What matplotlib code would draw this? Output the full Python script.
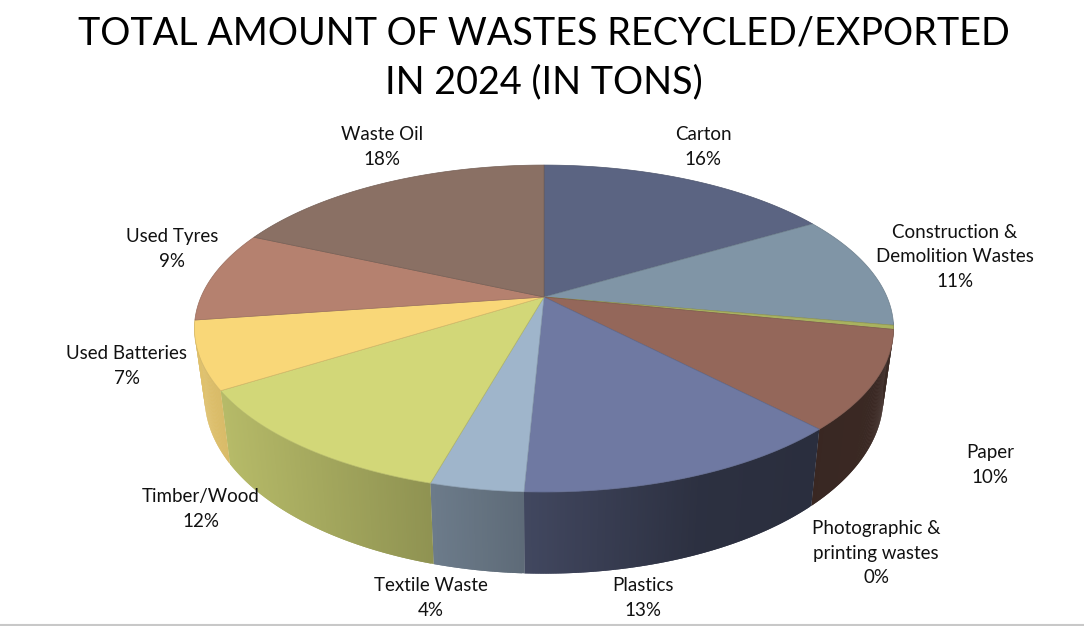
"""3D-look pie of wastes recycled/exported, drawn with a perspective projection."""

import numpy as np
import matplotlib
matplotlib.use("Agg")
import matplotlib.pyplot as plt
from matplotlib.colors import to_rgb
from matplotlib.patches import Polygon

plt.rcParams["font.family"] = ["Lato", "DejaVu Sans"]

TITLE = "TOTAL AMOUNT OF WASTES RECYCLED/EXPORTED\nIN 2024 (IN TONS)"

# clockwise from 12 o'clock
CATEGORIES = ["Carton", "Construction &\nDemolition Wastes", "Photographic &\nprinting wastes",
              "Paper", "Plastics", "Textile Waste", "Timber/Wood", "Used Batteries",
              "Used Tyres", "Waste Oil"]
VALUES = [16.5, 11.3, 0.4, 9.7, 12.9, 3.6, 11.7, 6.7, 9.0, 18.3]

COLORS = ["#5b6482", "#8095a6", "#a9b25f", "#94675a", "#6f79a2",
          "#9fb5cb", "#d2d778", "#f9d778", "#b5816f", "#8a7064"]
LABEL_XY = [(703, 147), (955, 257), (876, 553), (990, 465), (643, 598),
            (431, 598), (201, 509), (127, 366), (172, 249), (382, 147)]

# projection of the unit disc to pixels
CX, CY = 544, 297
K = 0.193
TOP_A, TOP_B = 157.4, 343
BOT_A, BOT_B, BOT_DY = 170, 333, 66

# wall brightness against screen x
SHADE_X = [194, 229, 432, 524, 700, 810, 893]
SHADE_F = [0.90, 0.86, 0.68, 0.59, 0.40, 0.38, 0.40]


def top_xy(u, v):
    w = 1 + K * v
    return CX + TOP_B * u / w, CY - TOP_A * v / w


def bottom_xy(u, v):
    w = 1 + K * v
    return CX + BOT_B * u / w, CY + BOT_DY - BOT_A * v / w


fig = plt.figure(figsize=(10.84, 6.26), dpi=100)
ax = fig.add_axes([0, 0, 1, 1])
ax.set_xlim(0, 1084)
ax.set_ylim(626, 0)
ax.axis("off")

edges = np.concatenate([[0], np.cumsum(VALUES)]) / np.sum(VALUES) * 2 * np.pi

# side walls first, tops go over them. Each strip runs one step into the next
# so no white seams show through
for i, col in enumerate(COLORS):
    n = max(3, int((edges[i + 1] - edges[i]) / 0.006))
    ang = np.linspace(edges[i], edges[i + 1], n)
    u, v = np.sin(ang), np.cos(ang)
    tx, ty = top_xy(u, v)
    bx, by = bottom_xy(u, v)
    base = np.array(to_rgb(col))
    for j in range(n - 1):
        if v[j] > -0.15 and v[j + 1] > -0.15:
            continue
        e = min(j + 2, n - 1)
        f = np.interp((tx[j] + tx[j + 1]) / 2, SHADE_X, SHADE_F)
        ax.add_patch(Polygon([(tx[j], ty[j]), (tx[e], ty[e]), (bx[e], by[e]), (bx[j], by[j])],
                             facecolor=tuple(base * f), edgecolor="none", zorder=2))

# top faces
for i, col in enumerate(COLORS):
    ang = np.linspace(edges[i], edges[i + 1], 150)
    tx, ty = top_xy(np.sin(ang), np.cos(ang))
    pts = np.column_stack([np.r_[CX, tx], np.r_[CY, ty]])
    edge = tuple(np.array(to_rgb(col)) * 0.85)
    ax.add_patch(Polygon(pts, closed=True, facecolor=col, edgecolor=edge,
                         linewidth=0.5, zorder=3))

ax.text(544, 58, TITLE, ha="center", va="center", fontsize=27.2, color="black",
        linespacing=1.44, zorder=5)

for name, val, (x, y) in zip(CATEGORIES, VALUES, LABEL_XY):
    ax.text(x, y, f"{name}\n{val:.0f}%", ha="center", va="center", fontsize=13.5,
            color="#111111", linespacing=1.53, zorder=5)

# grey strip along the bottom of the screenshot
ax.axhline(624.5, color="#c8c8c8", linewidth=1.5, zorder=1)

fig.savefig("out.png", dpi=100, facecolor="white")
